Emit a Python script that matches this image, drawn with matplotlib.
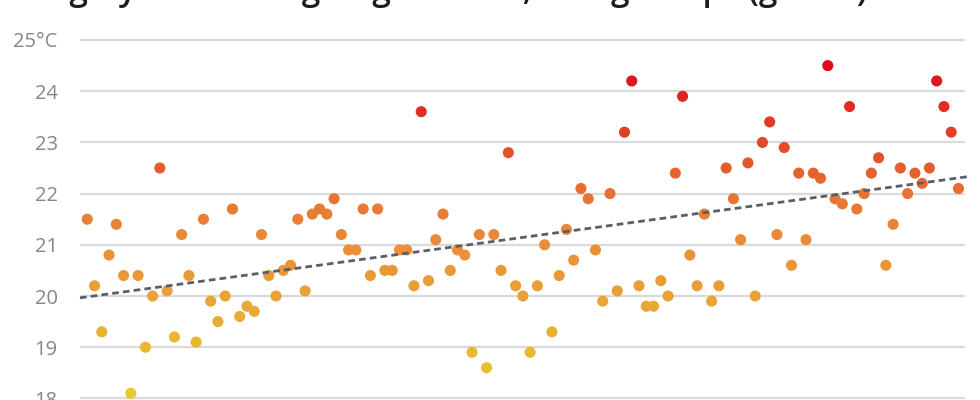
import numpy as np
import matplotlib
matplotlib.use('Agg')
import matplotlib.pyplot as plt
from matplotlib.colors import LinearSegmentedColormap, Normalize

# one value per year
years = list(range(1900, 2021))
temps = [
    21.5, 20.2, 19.3, 20.8, 21.4, 20.4, 18.1, 20.4, 19.0, 20.0,
    22.5, 20.1, 19.2, 21.2, 20.4, 19.1, 21.5, 19.9, 19.5, 20.0,
    21.7, 19.6, 19.8, 19.7, 21.2, 20.4, 20.0, 20.5, 20.6, 21.5,
    20.1, 21.6, 21.7, 21.6, 21.9, 21.2, 20.9, 20.9, 21.7, 20.4,
    21.7, 20.5, 20.5, 20.9, 20.9, 20.2, 23.6, 20.3, 21.1, 21.6,
    20.5, 20.9, 20.8, 18.9, 21.2, 18.6, 21.2, 20.5, 22.8, 20.2,
    20.0, 18.9, 20.2, 21.0, 19.3, 20.4, 21.3, 20.7, 22.1, 21.9,
    20.9, 19.9, 22.0, 20.1, 23.2, 24.2, 20.2, 19.8, 19.8, 20.3,
    20.0, 22.4, 23.9, 20.8, 20.2, 21.6, 19.9, 20.2, 22.5, 21.9,
    21.1, 22.6, 20.0, 23.0, 23.4, 21.2, 22.9, 20.6, 22.4, 21.1,
    22.4, 22.3, 24.5, 21.9, 21.8, 23.7, 21.7, 22.0, 22.4, 22.7,
    20.6, 21.4, 22.5, 22.0, 22.4, 22.2, 22.5, 24.2, 23.7, 23.2,
    22.1,
]
y_ticks = [18, 19, 20, 21, 22, 23, 24, 25]
y_labels = ['18', '19', '20', '21', '22', '23', '24', '25°C']

# title is cropped at the top edge, only descenders show
title = 'Highly fluctuating August heat, rising temps (global)'

plt.rcParams['font.family'] = ['Open Sans', 'DejaVu Sans']

# yellow -> orange -> red by temperature
cmap = LinearSegmentedColormap.from_list('heat', [
    (0.0, '#e8cc2a'),
    (1 / 6.5, '#e8b830'),
    (2 / 6.5, '#e9a236'),
    (3 / 6.5, '#e98e38'),
    (4 / 6.5, '#e87232'),
    (5 / 6.5, '#e04a28'),
    (1.0, '#df0a1c'),
])
norm = Normalize(vmin=18, vmax=24.5)

fig = plt.figure(figsize=(9.8, 4.0), dpi=100)
# axes placed so 25 sits at y=40px and 18 at y=398px (bottom cropped)
ax = fig.add_axes([80 / 980, -24 / 400, 885 / 980, 409.6 / 400])

x = np.array(years, dtype=float)
y = np.array(temps)

ax.scatter(x, y, s=64, c=[cmap(norm(v)) for v in y], linewidths=0, zorder=3)

# linear trend
slope, icpt = np.polyfit(x, y, 1)
tx = np.array([1899, 2021.6])
ax.plot(tx, slope * tx + icpt, color='#5a5e66', lw=2.0,
        linestyle=(0, (2.4, 1.5)), zorder=4, clip_on=False)

ax.set_xlim(1899, 2020.9)
ax.set_ylim(17.5, 25.5)
ax.set_yticks(y_ticks)
ax.set_yticklabels(y_labels)
ax.set_xticks([])
ax.tick_params(axis='y', length=0, pad=16, labelsize=14.5, labelcolor='#868686')
ax.grid(axis='y', color='#dadada', lw=1.6, zorder=0)
ax.set_axisbelow(True)
for s in ax.spines.values():
    s.set_visible(False)

fig.text(35 / 980, 1.0, title, fontsize=24, fontweight='semibold', color='#1d1d1d',
         va='baseline', ha='left')

fig.savefig('out.png', dpi=100)
